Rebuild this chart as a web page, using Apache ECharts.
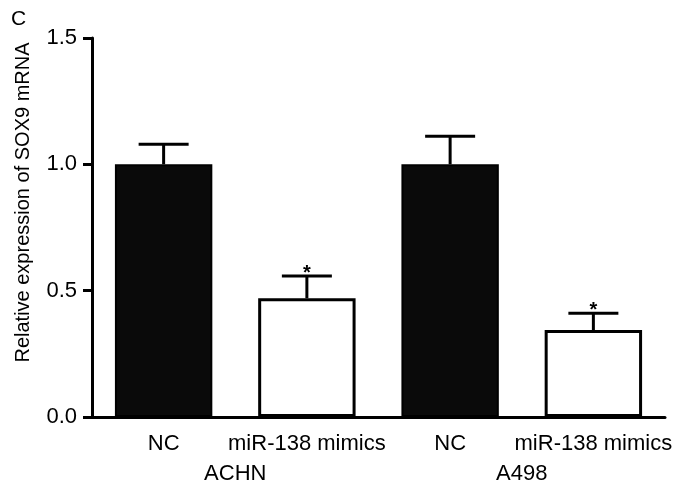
<!DOCTYPE html>
<html>
<head>
<meta charset="utf-8">
<script src="https://cdn.jsdelivr.net/npm/echarts@6/dist/echarts.min.js"></script>
<style>
  html, body { margin: 0; padding: 0; background: #fff; }
  #chart { width: 680px; height: 489px; }
</style>
</head>
<body>
<div id="chart"></div>
<script>
// data
const categories = ['NC', 'miR-138 mimics', 'NC', 'miR-138 mimics'];
const cellLines = ['ACHN', 'A498'];
const means = [1.0, 0.47, 1.0, 0.344];
const errTops = [1.079, 0.558, 1.111, 0.411];
const significant = [false, true, false, true];
const barFills = ['#0a0a0a', '#ffffff', '#0a0a0a', '#ffffff'];

const FONT = 'Liberation Sans, Arial, sans-serif';

const chart = echarts.init(document.getElementById('chart'));

const errData = means.map((m, i) => [i, m, errTops[i], significant[i] ? 1 : 0]);

const option = {
  animation: false,
  title: {
    text: 'C', left: 6, top: 4,
    textStyle: { fontFamily: FONT, fontSize: 21, fontWeight: 'normal', color: '#000' }
  },
  grid: { left: 92, right: 15, top: 38, bottom: 72 },
  xAxis: [{
    type: 'category',
    data: categories,
    axisLine: { lineStyle: { color: '#000', width: 3 } },
    axisTick: { alignWithLabel: true, length: 8, lineStyle: { color: '#000', width: 3 } },
    axisLabel: { color: '#000', fontFamily: FONT, fontSize: 22, margin: 16, interval: 0, hideOverlap: false }
  }, {
    type: 'category',
    data: cellLines,
    position: 'bottom',
    offset: 30,
    axisLine: { show: false },
    axisTick: { show: false },
    axisLabel: { color: '#000', fontFamily: FONT, fontSize: 22, margin: 16, interval: 0 }
  }],
  yAxis: {
    type: 'value',
    min: 0, max: 1.5, interval: 0.5,
    name: 'Relative expression of SOX9 mRNA',
    nameLocation: 'middle',
    nameGap: 59,
    nameTextStyle: { color: '#000', fontFamily: FONT, fontSize: 20, padding: [0, 0, 0, 50] },
    axisLine: { show: true, lineStyle: { color: '#000', width: 3 } },
    axisTick: { show: true, length: 9, lineStyle: { color: '#000', width: 3 } },
    axisLabel: {
      color: '#000', fontFamily: FONT, fontSize: 22, margin: 15,
      formatter: v => v.toFixed(1)
    },
    splitLine: { show: false }
  },
  series: [{
    type: 'bar',
    barWidth: '68%',
    data: means.map((v, i) => ({
      value: v,
      itemStyle: {
        color: barFills[i],
        borderColor: '#000',
        borderWidth: barFills[i] === '#ffffff' ? 3 : 2
      }
    })),
    z: 2
  }, {
    type: 'custom',
    data: errData,
    z: 3,
    renderItem: (params, api) => {
      const x = api.value(0);
      const base = api.coord([x, api.value(1)]);
      const top = api.coord([x, api.value(2)]);
      const half = 25;
      const children = [{
        type: 'line',
        shape: { x1: base[0], y1: base[1], x2: top[0], y2: top[1] },
        style: { stroke: '#000', lineWidth: 3 }
      }, {
        type: 'line',
        shape: { x1: top[0] - half, y1: top[1], x2: top[0] + half, y2: top[1] },
        style: { stroke: '#000', lineWidth: 3 }
      }];
      if (api.value(3)) {
        children.push({
          type: 'text',
          style: {
            text: '*', x: top[0], y: top[1] - 3,
            align: 'center', verticalAlign: 'middle',
            fontFamily: FONT, fontSize: 20, fontWeight: 'bold', fill: '#000'
          }
        });
      }
      return { type: 'group', children };
    }
  }]
};

chart.setOption(option);
</script>
</body>
</html>
